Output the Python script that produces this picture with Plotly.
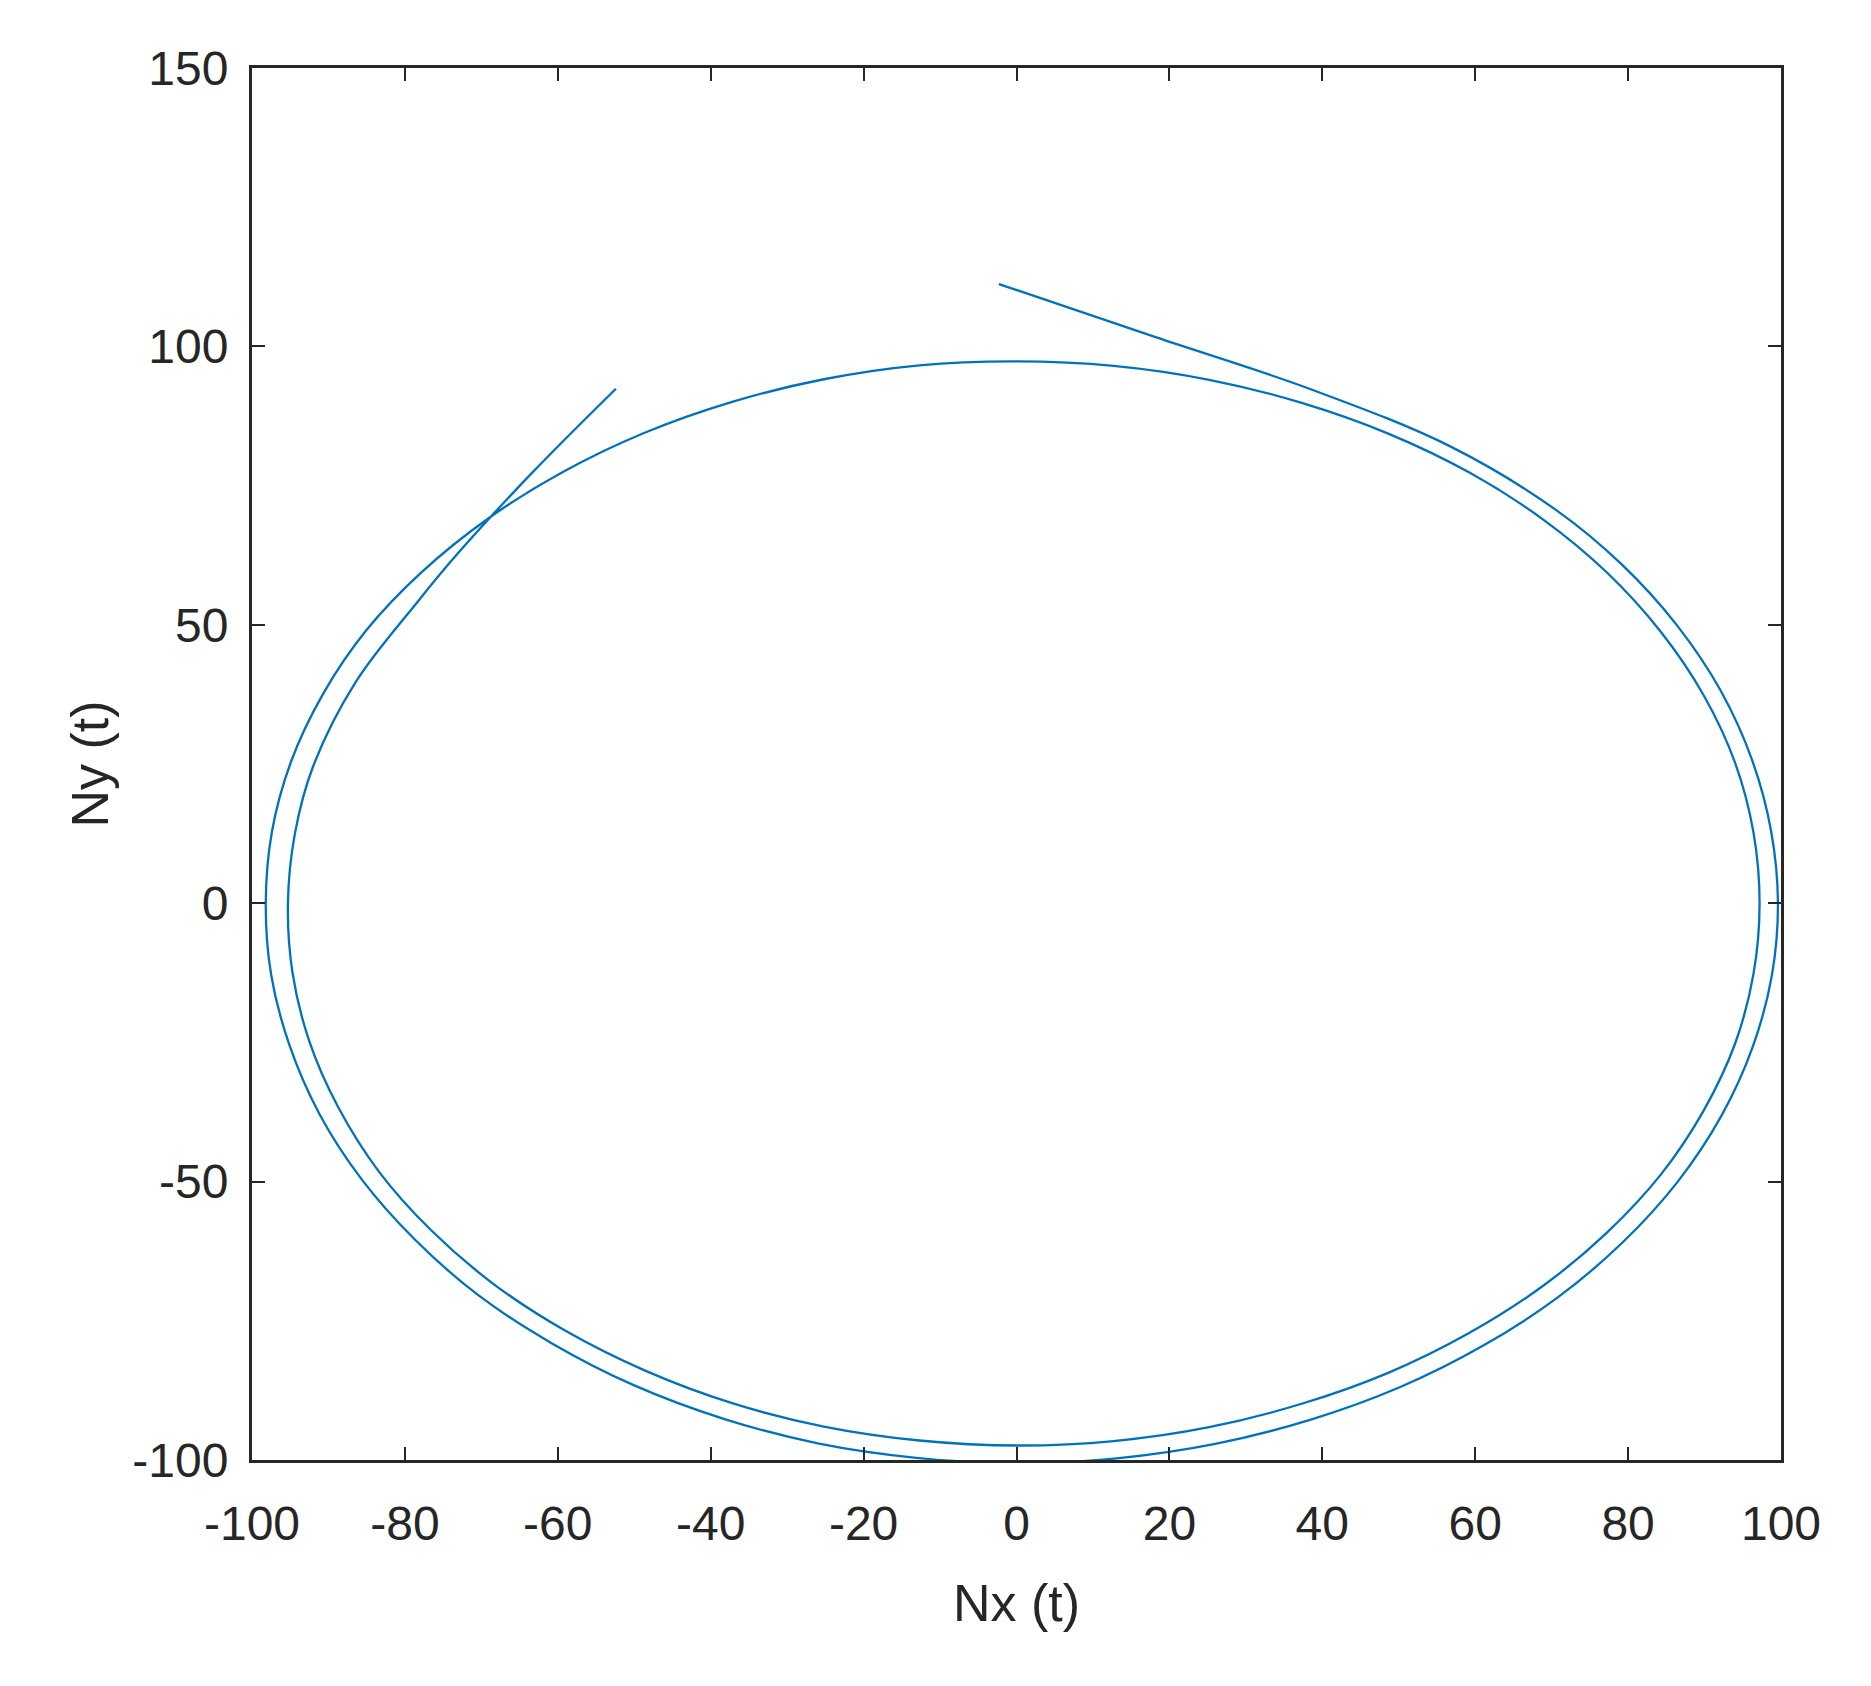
import plotly.graph_objects as go

# Trajectory points (in drawing order)
nx = [-52.4, -63.5, -72.9, -78.3, -86.4, -92.0, -94.4, -95.3, -94.7, -92.5, -88.7, -83.4, -76.6,
      -68.4, -59.0, -48.5, -37.2, -25.2, -12.7, 0.5, 12.7,
      25.2, 37.3, 48.7, 59.2, 68.8, 77.2, 84.3, 89.9, 94.0, 96.4, 97.2,
      96.4, 94.0, 89.9, 84.3, 77.3, 68.9, 59.3, 48.7, 37.2, 25.2, 12.7, 0.0,
      -12.7, -25.2, -37.3, -48.8, -59.4, -69.1, -77.7, -85.0, -90.7, -94.9, -97.4, -98.2,
      -97.5, -95.1, -91.2, -85.7, -78.7, -70.4, -60.7, -50.0, -38.3, -26.0, -13.1, 0.5,
      13.1, 26.0, 38.4, 50.2, 61.0, 70.8, 79.3, 86.5, 92.2, 96.3, 98.8, 99.6,
      98.7, 96.2, 92.1, 86.4, 79.2, 70.6, 56.8, 38.5, 18.1, -2.3]
ny = [92.4, 77.1, 63.1, 54.2, 39.8, 24.6, 12.4, 0.0, -12.5, -24.8, -36.7, -48.2, -58.7,
      -68.4, -76.8, -84.0, -89.8, -94.0, -96.5, -97.4, -96.6,
      -94.1, -89.9, -84.3, -77.2, -68.8, -59.2, -48.7, -37.2, -25.2, -12.7, 0.0,
      12.7, 25.2, 37.3, 48.7, 59.3, 68.9, 77.3, 84.3, 89.9, 94.0, 96.5, 97.3,
      96.6, 94.1, 90.0, 84.4, 77.4, 69.1, 59.6, 49.1, 37.6, 25.4, 12.8, 0.0,
      -12.8, -25.5, -37.8, -49.5, -60.4, -70.4, -79.1, -86.6, -92.6, -97.0, -99.6, -100.6,
      -99.7, -97.1, -92.8, -86.9, -79.5, -70.8, -60.9, -50.0, -38.2, -25.8, -13.0, 0.0,
      13.0, 25.8, 38.2, 49.9, 60.8, 70.6, 82.0, 92.3, 101.7, 111.2]

x_ticks = [-100, -80, -60, -40, -20, 0, 20, 40, 60, 80, 100]
y_ticks = [-100, -50, 0, 50, 100, 150]

fig = go.Figure()
fig.add_trace(go.Scatter(
    x=nx, y=ny, mode="lines",
    line=dict(color="#0072BD", width=2.3, shape="spline", smoothing=1.0),
    showlegend=False,
))

axis_common = dict(
    showline=True, linecolor="#262626", linewidth=3, mirror="ticks",
    ticks="inside", ticklen=13, tickwidth=2, tickcolor="#262626",
    showgrid=False, zeroline=False,
    tickfont=dict(family="Liberation Sans, Arial, sans-serif", size=48, color="#262626"),
)

fig.update_layout(
    width=1871, height=1686,
    margin=dict(l=244, r=98, t=60, b=234),
    paper_bgcolor="white", plot_bgcolor="white",
    font=dict(family="Liberation Sans, Arial, sans-serif", color="#262626"),
    xaxis=dict(range=[-100, 100], tickmode="array", tickvals=x_ticks,
               ticktext=[str(v) for v in x_ticks], ticklabelstandoff=19,
               title=dict(text="Nx (t)", font=dict(size=52, color="#262626"), standoff=37),
               **axis_common),
    yaxis=dict(range=[-100, 150], tickmode="array", tickvals=y_ticks,
               ticktext=[str(v) for v in y_ticks], ticklabelstandoff=11,
               title=dict(text="Ny (t)", font=dict(size=52, color="#262626"), standoff=8),
               **axis_common),
)

fig.write_html("out.html")
